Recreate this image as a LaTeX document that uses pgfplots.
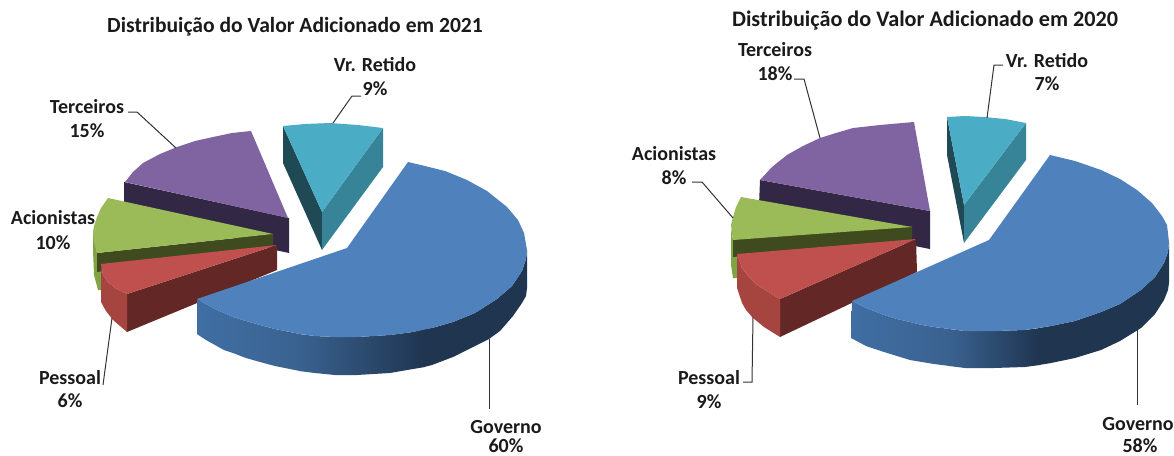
\documentclass[border=0pt]{standalone}
\usepackage{fontspec}
\setmainfont{Carlito}
\usepackage{pgfplots}
\pgfplotsset{compat=1.18}
\definecolor{tblue}{HTML}{4F81BD}
\definecolor{wblueA}{HTML}{406EA3}
\definecolor{wblueB}{HTML}{3A6290}
\definecolor{wblueC}{HTML}{1F3550}
\definecolor{tred}{HTML}{C0504D}
\definecolor{wredL}{HTML}{A6453F}
\definecolor{wredD}{HTML}{632826}
\definecolor{tgreen}{HTML}{9BBB59}
\definecolor{wgreenL}{HTML}{80A344}
\definecolor{wgreenD}{HTML}{3F4A1E}
\definecolor{tpurple}{HTML}{8064A2}
\definecolor{wpurple}{HTML}{332746}
\definecolor{tteal}{HTML}{4BACC6}
\definecolor{wtealR}{HTML}{378398}
\definecolor{wtealL}{HTML}{1F4A55}
\definecolor{leader}{HTML}{333333}
\definecolor{txt}{HTML}{1A1A1A}
\newcommand\poly[2]{\addplot[draw=none,fill=#1,no markers,forget plot] coordinates {#2};}
\newcommand\grad[3]{\addplot[draw=none,left color=#1,right color=#2,no markers,forget plot] coordinates {#3};}
\newcommand\lead[1]{\addplot[draw=leader,line width=1pt,no markers,forget plot] coordinates {#1};}
\newcommand\lab[3]{\node[font=\fontsize{20}{22}\selectfont\bfseries,text=txt,inner sep=0pt] at (axis cs:#1,#2) {#3};}
\begin{document}
\begin{tikzpicture}
\path[use as bounding box] (0,0) rectangle (1174pt,455pt);
\begin{axis}[at={(0,0)},anchor=south west,scale only axis,width=1174pt,height=455pt,
  xmin=0,xmax=1174,ymin=0,ymax=455,y dir=reverse,hide axis,clip=false]
%% ---------- 2021 ----------
% Terceiros
\poly{wpurple}{(124,182)(289,218)(289,253)(275,250)(124,205)}
\poly{tpurple}{(125,182)(133,172)(143,163)(160,154)(177,147)(195,141)(213,137)(232,133)(251,131)(288,218)}
% Acionistas
\poly{wgreenL}{(93,232)(97,253)(101,264)(101,290)(98,290)(94,275)(93,250)}
\poly{wgreenD}{(97,253)(273,234)(273,246)(97,272)}
\poly{tgreen}{(108,198)(101,208)(97,217)(94,226)(93,232)(94,242)(97,253)(273,234)}
% Pessoal
\poly{wredD}{(127,294)(277,245)(277,270)(127,332)}
\poly{wredL}{(101,264)(103,275)(108,282)(115,288)(127,294)(127,332)(113,320)(106,311)(101,302)}
\poly{tred}{(101,264)(277,245)(127,294)(115,288)(108,282)(103,275)}
% Vr. Retido
\poly{wtealL}{(283,126)(322,212)(322,250)(283,163)}
\poly{wtealR}{(383,128)(322,212)(322,250)(383,167)}
\poly{tteal}{(283,126)(305,124)(330,123)(358,125)(383,128)(322,212)}
% Governo
\grad{wblueA}{wblueB}{(197,299)(206,304)(215,309)(224,313)(233,317)(246,321)(260,325)(275,329)(290,332)(300,334)(300,371)(290,369)(275,366)(260,362)(246,358)(233,353)(224,350)(215,345)(206,340)(197,334)}
\grad{wblueB}{wblueC}{(299,334)(315,336)(335,337)(357,337)(390,335)(413,332)(425,329)(425,367)(413,369)(390,373)(357,375)(335,375)(315,373)(299,371)}
\poly{wblueC}{(424,329)(432,328)(453,322)(475,313)(497,299)(512,286)(522,271)(526,259)(527,250)(527,288)(526,296)(522,303)(513,316)(500,331)(489,339)(475,346)(453,357)(432,365)(424,367)}
\poly{tblue}{(347,248)(408,162)(425,166)(445,171)(467,180)(487,191)(507,207)(518,220)(524,233)(527,250)(526,259)(522,271)(512,286)(497,299)(475,313)(453,322)(432,328)(413,332)(390,335)(357,337)(335,337)(315,336)(300,334)(290,332)(275,329)(260,325)(246,321)(233,317)(224,313)(215,309)(206,304)(197,299)}
% leaders
\lead{(128,112)(137,112)(176,148)}
\lead{(361,96)(352,96)(333,123)}
\lead{(112,318)(103,385)}
\lead{(489,339)(489,409)}
%% ---------- 2020 ----------
% Terceiros
\poly{wpurple}{(760,180)(930,211)(930,249)(915,246)(759,205)}
\poly{tpurple}{(760,180)(772,167)(787,155)(803,146)(820,138)(836,133)(853,128)(880,125)(914,122)(930,211)}
% Acionistas
\poly{wgreenL}{(731,228)(733,240)(733,253)(737,253)(737,278)(733,278)(731,265)}
\poly{wgreenD}{(733,239)(912,226)(912,240)(733,257)}
\poly{tgreen}{(741,197)(736,207)(733,217)(731,225)(732,233)(733,240)(912,227)}
% Pessoal
\poly{wredD}{(780,299)(916,239)(917,272)(780,337)}
\poly{wredL}{(737,254)(742,268)(748,276)(757,285)(780,299)(780,337)(764,327)(753,318)(746,310)(742,303)(737,288)}
\poly{tred}{(737,254)(916,239)(780,299)(757,285)(748,276)(742,268)}
% Vr. Retido
\poly{wtealL}{(947,117)(964,205)(964,243)(947,155)}
\poly{wtealR}{(1026,123)(964,205)(964,243)(1026,160)}
\poly{tteal}{(947,117)(965,116)(984,117)(1005,119)(1026,123)(964,205)}
% Governo
\grad{wblueA}{wblueB}{(852,301)(866,308)(884,315)(897,319)(910,322)(922,325)(934,327)(950,329)(950,366)(934,364)(922,362)(910,360)(897,356)(884,352)(866,346)(851,338)}
\grad{wblueB}{wblueC}{(949,329)(965,331)(994,331)(1025,330)(1040,328)(1040,365)(1025,367)(994,368)(965,368)(949,366)}
\poly{wblueC}{(1039,328)(1051,326)(1075,321)(1101,312)(1120,304)(1141,290)(1155,277)(1164,263)(1168,252)(1169,242)(1169,283)(1168,290)(1164,300)(1155,314)(1141,328)(1120,341)(1101,350)(1075,358)(1051,363)(1039,365)}
\poly{tblue}{(989,240)(1050,155)(1075,161)(1101,170)(1120,179)(1137,190)(1152,203)(1162,216)(1167,225)(1169,242)(1168,252)(1164,263)(1155,277)(1141,290)(1120,304)(1101,312)(1075,321)(1051,326)(1025,330)(994,331)(965,331)(950,329)(934,327)(922,325)(910,322)(897,319)(884,315)(866,308)(852,301)}
% leaders
\lead{(794,79)(804,79)(820,138)}
\lead{(1003,65)(994,65)(987,118)}
\lead{(692,182)(702,182)(733,218)}
\lead{(743,382)(752,382)(753,317)}
\lead{(1137,329)(1137,405)}
%% ---------- text ----------
\node[font=\fontsize{21.6}{24}\selectfont\bfseries,text=txt,inner sep=0pt] at (axis cs:295,27) {Distribuição do Valor Adicionado em 2021};
\node[font=\fontsize{22.2}{24}\selectfont\bfseries,text=txt,inner sep=0pt] at (axis cs:925,21) {Distribuição do Valor Adicionado em 2020};
\lab{375}{65}{Vr. Retido}
\lab{375}{89}{9\%}
\lab{87}{107}{Terceiros}
\lab{87}{131}{15\%}
\lab{53}{218}{Acionistas}
\lab{53}{243}{10\%}
\lab{70}{378}{Pessoal}
\lab{70}{401}{6\%}
\lab{506}{427}{Governo}
\lab{506}{446}{60\%}
\lab{775}{50}{Terceiros}
\lab{775}{74}{18\%}
\lab{674}{154}{Acionistas}
\lab{674}{178}{8\%}
\lab{1047}{61}{Vr. Retido}
\lab{1047}{84}{7\%}
\lab{709}{378}{Pessoal}
\lab{709}{402}{9\%}
\lab{1138}{424}{Governo}
\lab{1140}{446}{58\%}
\end{axis}
\end{tikzpicture}
\end{document}
